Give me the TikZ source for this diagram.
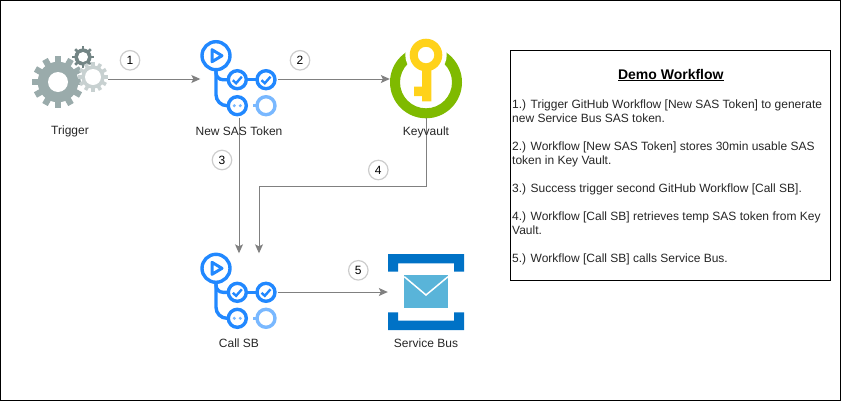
\documentclass[tikz,border=0pt]{standalone}
\usepackage{fontspec}
\setmainfont{Liberation Sans}
\usetikzlibrary{arrows.meta}

\definecolor{flowblue}{HTML}{2188FF}
\definecolor{flowlight}{HTML}{79B8FF}
\definecolor{gearbig}{HTML}{9AABAB}
\definecolor{geardark}{HTML}{738585}
\definecolor{gearpale}{HTML}{C8D1D1}
\definecolor{ringgreen}{HTML}{7FBA00}
\definecolor{keyyellow}{HTML}{FFD21A}
\definecolor{busblue}{HTML}{0072C6}
\definecolor{busmail}{HTML}{59B4D9}

\tikzset{
    iconbox/.style={minimum width=#1, minimum height=77pt, inner sep=0pt},
    caption/.style={font=\fontsize{12}{14}\selectfont, text=black!85, inner sep=0pt},
    badge/.style={draw=black!20, line width=1.2pt, circle, minimum size=19.5pt, inner sep=0pt,
        font=\fontsize{12}{14}\selectfont},
    link/.style={draw=black!50, line width=1pt, -{Stealth[length=9pt,width=8pt,inset=2pt]}},
}

% gear: x, y, outer radius, hole radius, teeth, colour
\newcommand{\gearicon}[6]{
    \fill[white] (#1,#2) circle (#3*0.8+1);
    \fill[#6] (#1,#2) circle (#3*0.78);
    \pgfmathsetmacro{\toothstep}{360/#5}
    \foreach \a in {1,...,#5}{
        \fill[#6, shift={(#1,#2)}, rotate=\a*\toothstep]
            (-#3*0.12,0) rectangle (#3*0.12,#3);
    }
    \fill[white] (#1,#2) circle (#4);
}

% workflow icon, origin in the play circle
\newcommand{\flowicon}[2]{
    \begin{scope}[shift={(#1,#2)}, line width=3.4pt, flowblue]
        \draw (0,0) circle (14);
        \draw[line width=3pt, line join=round] (-4,-6) -- (-4,6) -- (6,0) -- cycle;
        \draw[rounded corners=7pt] (0,14) |- (12.3,24);
        \draw[rounded corners=11pt] (0,14) |- (12.3,50);
        \draw (21.3,24) circle (9);
        \draw (50,24) circle (9);
        \draw (30.3,24) -- (41,24);
        \draw (21.3,50) circle (9);
        \draw[flowlight] (50,50) circle (9);
        \draw[flowlight] (37,50) -- (41,50);
        \foreach \x in {21.3,50}{
            \draw[line width=2.4pt] (\x-4.5,24.5) -- (\x-1.2,27.5) -- (\x+4.5,21);
        }
        \fill[flowlight] (18.3,50) circle (1.7) (24.3,50) circle (1.7);
    \end{scope}
}

\begin{document}
\begin{tikzpicture}[x=1pt, y=-1pt]
    \useasboundingbox (0,0) rectangle (842,402);
    \draw[line width=1pt] (0.5,0.5) rectangle (840.5,400.5);

    % icons
    \gearicon{58}{82}{26}{10}{12}{gearbig}
    \gearicon{83}{57}{11}{5}{8}{geardark}
    \gearicon{93}{77}{15}{8}{12}{gearpale}
    \flowicon{216}{55.7}
    \flowicon{216}{268.3}

    \fill[ringgreen, even odd rule] (426,82.3) circle (36) (426,82.3) circle (26);
    \fill[white] (426,55) circle (20.7);
    \fill[keyyellow, even odd rule] (426,55) circle (16.3) (426,55) circle (8.3);
    \fill[keyyellow] (422,68) rectangle (431.3,101.3) (414,86.7) rectangle (422,96);

    \fill[busblue] (388,254) rectangle (464,263.3)
        (388,254) rectangle (398,271.7) (454,254) rectangle (464,271.7);
    \fill[busblue] (388,320.7) rectangle (464,330)
        (388,312.3) rectangle (398,330) (454,312.3) rectangle (464,330);
    \fill[busmail] (404.3,275) rectangle (448,308.3);
    \draw[white, line width=1.5pt] (404.3,276.7) -- (426,295) -- (448,276.7);

    % nodes over the icons
    \node[iconbox=75pt] (trigger) at (70.5,79) {};
    \node[iconbox=77pt] (newsas) at (239,79) {};
    \node[iconbox=72pt] (keyvault) at (426,79) {};
    \node[iconbox=77pt] (callsb) at (239,292) {};
    \node[iconbox=76pt] (servicebus) at (426,292) {};
    \coordinate (turn) at (259,186);

    % connectors
    \draw[link] (trigger.east) -- (newsas.west);
    \draw[link] (newsas.east) -- (keyvault.west);
    \draw[link] (newsas.south) -- (callsb.north);
    \draw[link] (keyvault.south) |- (turn) -- (turn |- callsb.north);
    \draw[link] (callsb.east) -- (servicebus.west);

    % captions
    \node[caption] (triggertext) at (70,131.7) {Trigger};
    \node[caption] (newsastext) at (239,131.7) {New SAS Token};
    \node[caption] (keyvaulttext) at (426,132.5) {Keyvault};
    \node[caption] (callsbtext) at (239,343.3) {Call SB};
    \node[caption] (servicebustext) at (426,343.3) {Service Bus};

    % step numbers
    \node[badge] (one) at (130,60.3) {1};
    \node[badge] (two) at (300,60.3) {2};
    \node[badge] (three) at (222,160) {3};
    \node[badge] (four) at (378.3,170) {4};
    \node[badge] (five) at (358.3,270.3) {5};

    % legend
    \draw[line width=1pt] (510.5,50.5) rectangle (830.5,280.5);
    \node[font=\bfseries\fontsize{14}{16}\selectfont, inner sep=0pt] (title) at (670.8,75)
        {\underline{Demo Workflow}};
    \node[anchor=north west, align=left, inner sep=0pt, text=black!85,
        font=\fontsize{12}{14}\selectfont] (steps) at (512,99.5) {
        1.) Trigger GitHub Workflow [New SAS Token] to generate\\
        new Service Bus SAS token.\\[14pt]
        2.) Workflow [New SAS Token] stores 30min usable SAS\\
        token in Key Vault.\\[14pt]
        3.) Success trigger second GitHub Workflow [Call SB].\\[14pt]
        4.) Workflow [Call SB] retrieves temp SAS token from Key\\
        Vault.\\[14pt]
        5.) Workflow [Call SB] calls Service Bus.};
\end{tikzpicture}
\end{document}
